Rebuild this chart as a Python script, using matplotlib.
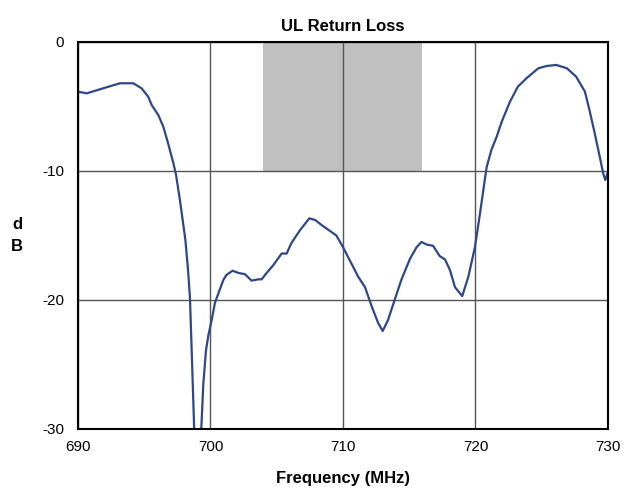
import matplotlib.pyplot as plt
from matplotlib.patches import Rectangle

plt.rcParams['font.family'] = ['Liberation Sans Narrow', 'Liberation Sans', 'DejaVu Sans']
plt.rcParams['axes.unicode_minus'] = False

# return loss trace
freq = [690.0, 690.66, 691.9, 693.17, 694.17, 694.8, 695.3, 695.56, 696.06, 696.44,
        696.8, 697.2, 697.4, 697.7, 698.1, 698.3, 698.45, 698.58, 698.7,
        698.8, 699.26, 699.46, 699.66, 699.83, 700.1, 700.34, 700.7, 700.97, 701.2,
        701.67, 702.1, 702.6, 703.1, 703.6, 703.86, 704.24, 704.74, 705.37, 705.75,
        706.1, 706.75, 707.46, 707.9, 708.4, 709.5, 710.0, 710.5, 711.15, 711.66,
        712.17, 712.66, 713.0, 713.4, 713.8, 714.4, 715.06, 715.56, 715.93, 716.3,
        716.8, 717.3, 717.7, 718.08, 718.45, 719.0, 719.46, 719.96, 720.34, 720.7,
        720.85, 721.2, 721.6, 721.98, 722.6, 723.2, 723.86, 724.74, 725.37, 726.1,
        726.9, 727.6, 728.26, 728.6, 729.0, 729.4, 729.64, 729.8, 730.0]
loss = [-3.85, -3.98, -3.59, -3.2, -3.2, -3.59, -4.24, -4.88, -5.66, -6.57,
        -7.85, -9.4, -10.3, -12.3, -15.3, -17.6, -19.8, -23.9, -27.75,
        -31.0, -31.0, -26.5, -23.9, -22.8, -21.5, -20.2, -19.2, -18.45, -18.06,
        -17.73, -17.9, -18.0, -18.5, -18.4, -18.4, -17.9, -17.3, -16.4, -16.4,
        -15.6, -14.6, -13.67, -13.8, -14.2, -15.0, -15.9, -16.9, -18.2, -19.0,
        -20.5, -21.8, -22.4, -21.55, -20.3, -18.45, -16.8, -15.9, -15.5, -15.7,
        -15.8, -16.6, -16.85, -17.7, -19.0, -19.7, -18.2, -15.9, -13.3, -10.7,
        -9.67, -8.37, -7.34, -6.18, -4.63, -3.46, -2.8, -2.04, -1.86, -1.78,
        -2.04, -2.69, -3.85, -5.27, -7.08, -9.0, -10.2, -10.7, -10.05]

band_lo, band_hi = 704, 716
spec_limit = -10

xticks = [690, 700, 710, 720, 730]
yticks = [-30, -20, -10, 0]

fig = plt.figure(figsize=(6.32, 4.94), dpi=100)
ax = fig.add_axes([0.1234, 0.1316, 0.8386, 0.7834])

ax.add_patch(Rectangle((band_lo, spec_limit), band_hi - band_lo, -spec_limit,
                       facecolor='#c0c0c0', edgecolor='none', zorder=1))
ax.plot(freq, loss, color='#2e4788', linewidth=1.6, zorder=3)

ax.set_xlim(690, 730)
ax.set_ylim(-30, 0)
ax.set_xticks(xticks)
ax.set_yticks(yticks)
ax.grid(True, color='#555555', linewidth=1.0, zorder=2)
ax.tick_params(length=0, labelsize=11)
ax.tick_params(axis='x', pad=8)
ax.tick_params(axis='y', pad=10)
for s in ax.spines.values():
    s.set_linewidth(1.5)
    s.set_zorder(4)

ax.set_title('UL Return Loss', fontsize=12, fontweight='bold', pad=8)
ax.set_xlabel('Frequency (MHz)', fontsize=12, fontweight='bold', labelpad=12)
ax.set_ylabel('d\nB', fontsize=12, fontweight='bold', rotation=0, labelpad=18,
              va='center', linespacing=1.6)

fig.savefig('out.png', dpi=100)
